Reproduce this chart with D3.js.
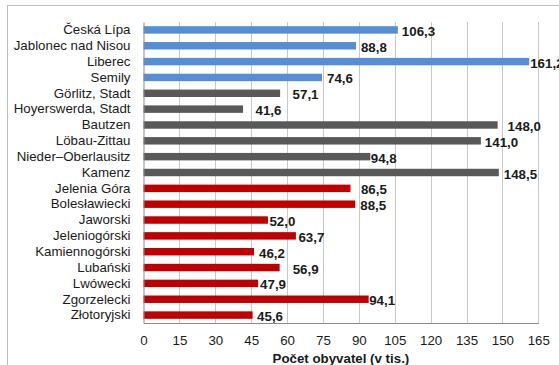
<!DOCTYPE html>
<html>
<head>
<meta charset="utf-8">
<script src="https://cdn.jsdelivr.net/npm/d3@7"></script>
<style>
  html, body { margin: 0; padding: 0; background: #fff; }
  svg { display: block; font-family: "Liberation Sans", Arial, sans-serif; }
</style>
</head>
<body>
<svg id="chart" width="559" height="365"></svg>
<script>
// Districts of the Neisse euroregion and their population (thousands)
const categories = [
  "Česká Lípa", "Jablonec nad Nisou", "Liberec", "Semily",
  "Görlitz, Stadt", "Hoyerswerda, Stadt", "Bautzen", "Löbau-Zittau",
  "Nieder–Oberlausitz", "Kamenz",
  "Jelenia Góra", "Bolesławiecki", "Jaworski", "Jeleniogórski",
  "Kamiennogórski", "Lubański", "Lwówecki", "Zgorzelecki", "Złotoryjski"
];
const values = [
  106.3, 88.8, 161.2, 74.6,
  57.1, 41.6, 148.0, 141.0, 94.8, 148.5,
  86.5, 88.5, 52.0, 63.7, 46.2, 56.9, 47.9, 94.1, 45.6
];
// country part each district belongs to
const regions = [
  "CZ", "CZ", "CZ", "CZ",
  "DE", "DE", "DE", "DE", "DE", "DE",
  "PL", "PL", "PL", "PL", "PL", "PL", "PL", "PL", "PL"
];
const xTicks = [0, 15, 30, 45, 60, 75, 90, 105, 120, 135, 150, 165];
const axisTitle = "Počet obyvatel (v tis.)";

// styling
const regionColor = { CZ: "#558ed5", DE: "#595959", PL: "#c00000" };
// horizontal gap between each bar end and its value label (px)
const labelGap = [4, 5, 1, 5, 12.5, 12.5, 10, 4, 0.5, 5, 10.5, 5, 1.5, 2.5, 5, 13, 2, 0.5, 4.5];

const svg = d3.select("#chart");
const W = 559, H = 365;
const plot = { left: 143.5, right: 538.3, top: 22, bottom: 323 };

// outer chart frame
svg.append("rect")
  .attr("x", 7.5).attr("y", 5.5)
  .attr("width", W).attr("height", H)
  .attr("fill", "none").attr("stroke", "#bfbfbf").attr("stroke-width", 1);

const x = d3.scaleLinear().domain([0, 165]).range([plot.left, plot.right]);
const y = d3.scaleBand().domain(categories).range([plot.top, plot.bottom])
  .paddingInner(0.53).paddingOuter(0.265);

// vertical gridlines
svg.append("g")
  .selectAll("line")
  .data(xTicks.slice(1))
  .join("line")
  .attr("x1", d => Math.round(x(d)) + 0.5).attr("x2", d => Math.round(x(d)) + 0.5)
  .attr("y1", plot.top).attr("y2", plot.bottom)
  .attr("stroke", "#c8c8c8").attr("stroke-width", 1);

// bars
const fmt = v => d3.format(".1f")(v).replace(".", ",");
const data = categories.map((c, i) => ({ c, v: values[i], r: regions[i], gap: labelGap[i] }));

svg.append("g")
  .selectAll("rect")
  .data(data)
  .join("rect")
  .attr("x", x(0))
  .attr("y", d => y(d.c))
  .attr("width", d => x(d.v) - x(0))
  .attr("height", y.bandwidth())
  .attr("fill", d => regionColor[d.r]);

// value labels
svg.append("g")
  .selectAll("text")
  .data(data)
  .join("text")
  .attr("x", d => x(d.v) + d.gap)
  .attr("y", d => y(d.c) + y.bandwidth() / 2 + 1.5)
  .attr("dominant-baseline", "central")
  .attr("font-size", "13.3px")
  .attr("font-weight", "bold")
  .attr("fill", "#1a1a1a")
  .text(d => fmt(d.v));

// category axis
const yAxis = svg.append("g")
  .attr("transform", `translate(${plot.left},0)`)
  .call(d3.axisLeft(y).tickSize(0).tickPadding(13));
yAxis.select(".domain").attr("stroke", "#8c8c8c");
yAxis.selectAll("text")
  .attr("font-size", "13.3px")
  .attr("font-family", "'Liberation Sans', Arial, sans-serif")
  .attr("fill", "#1a1a1a");

// value axis
const xAxis = svg.append("g")
  .attr("transform", `translate(0,${plot.bottom})`)
  .call(d3.axisBottom(x).tickValues(xTicks).tickSize(0).tickPadding(13).tickFormat(d3.format("d")));
xAxis.select(".domain").attr("stroke", "#8c8c8c");
xAxis.selectAll("text")
  .attr("font-size", "13.3px")
  .attr("font-family", "'Liberation Sans', Arial, sans-serif")
  .attr("fill", "#1a1a1a");

// axis title
svg.append("text")
  .attr("x", (plot.left + plot.right) / 2)
  .attr("y", 358)
  .attr("text-anchor", "middle")
  .attr("dominant-baseline", "central")
  .attr("font-size", "13.3px")
  .attr("font-weight", "bold")
  .attr("fill", "#1a1a1a")
  .text(axisTitle);
</script>
</body>
</html>
